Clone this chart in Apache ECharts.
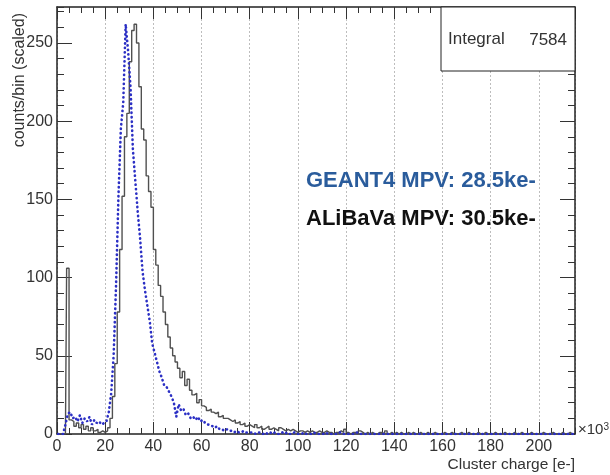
<!DOCTYPE html>
<html>
<head>
<meta charset="utf-8">
<script src="https://cdn.jsdelivr.net/npm/echarts@6/dist/echarts.min.js"></script>
<style>
  html, body { margin: 0; padding: 0; background: #fff; }
  #chart { width: 610px; height: 475px; }
</style>
</head>
<body>
<div id="chart"></div>
<script>
// Cluster charge histograms, 1 ke- bins starting at 0 (axis unit: 10^3 e-)
const binLow = 0;
const binWidth = 1;

// ALiBaVa measured cluster charge (counts/bin, scaled)
const alibavaCounts = [
  0, 0, 0, 0, 106, 9, 8, 5, 7, 4,
  6, 3, 5, 2, 4, 2, 3, 1, 2, 1,
  2, 4, 10, 24, 45, 78, 118, 152, 190, 205,
  238, 258, 262, 250, 222, 195, 188, 165, 155, 145,
  118, 108, 95, 88, 78, 70, 62, 55, 50, 46,
  42, 36, 40, 31, 35, 28, 25, 26, 20, 22,
  18, 17, 15, 16, 14, 13, 14, 11, 12, 10,
  10, 9, 8, 9, 7, 8, 6, 7, 5, 6,
  5, 4, 6, 4, 5, 3, 4, 5, 3, 4,
  3, 2, 4, 3, 2, 3, 2, 3, 2, 1,
  2, 2, 1, 2, 1, 2, 1, 1, 2, 1,
  1, 2, 1, 1, 0, 1, 1, 2, 1, 3,
  1, 0, 1, 1, 0, 2, 1, 0, 1, 0,
  1, 0, 0, 1, 1, 0, 2, 0, 1, 0,
  1, 0, 1, 0, 0, 1, 0, 1, 0, 0,
  1, 0, 0, 1, 0, 0, 1, 0, 0, 0,
  1, 0, 0, 1, 0, 0, 0, 1, 0, 0,
  1, 0, 0, 0, 1, 0, 0, 1, 0, 0,
  0, 1, 0, 0, 0, 1, 0, 0, 0, 1,
  0, 0, 1, 0, 0, 0, 1, 0, 0, 0,
  0, 1, 0, 0, 0, 1, 0, 0, 0, 1,
  0, 0, 1, 0, 0
];

// GEANT4 simulated cluster charge (counts/bin, scaled)
const geant4Counts = [
  0, 0, 0, 6, 13, 14, 10, 11, 8, 12,
  7, 10, 8, 11, 6, 9, 7, 8, 6, 7,
  8, 14, 26, 50, 95, 152, 195, 212, 262, 245,
  222, 182, 162, 142, 125, 104, 92, 82, 72, 58,
  52, 46, 40, 36, 31, 30, 27, 24, 20, 11,
  19, 15, 16, 12, 13, 10, 11, 9, 11, 8,
  9, 7, 6, 6, 5, 4, 5, 3, 3, 2,
  3, 2, 2, 1, 2, 1, 1, 2, 1, 1,
  1, 1, 0, 1, 1, 0, 1, 0, 1, 0,
  1, 0, 0, 1, 0, 1, 0, 0, 1, 0,
  0, 0, 1, 0, 0, 0, 1, 0, 0, 0,
  0, 1, 0, 0, 0, 0, 0, 1, 0, 0,
  0, 0, 0, 0, 1, 0, 0, 0, 0, 0,
  0, 0, 0, 0, 0, 0, 0, 0, 0, 0,
  0, 0, 0, 0, 0, 0, 0, 0, 0, 0,
  0, 0, 0, 0, 0, 0, 0, 0, 0, 0,
  0, 0, 0, 0, 0, 0, 0, 0, 0, 0,
  0, 0, 0, 0, 0, 0, 0, 0, 0, 0,
  0, 0, 0, 0, 0, 0, 0, 0, 0, 0,
  0, 0, 0, 0, 0, 0, 0, 0, 0, 0,
  0, 0, 0, 0, 0, 0, 0, 0, 0, 0,
  0, 0, 0, 0, 0
];

// Axis ranges and tick spacing
const xRange = [0, 215];
const yRange = [0, 273];
const xMajorStep = 20, xMinorStep = 5;
const yMajorStep = 50, yMinorStep = 10;

// Texts
const xTitle = 'Cluster charge [e-]';
const yTitle = 'counts/bin (scaled)';
const statsLabel = 'Integral';
const statsValue = '7584';
const geantText = 'GEANT4 MPV: 28.5ke-';
const alibavaText = 'ALiBaVa MPV: 30.5ke-';

const FONT = '"Liberation Sans", Arial, Helvetica, sans-serif';
const AXIS_COLOR = '#222';
const TEXT_COLOR = '#333';

const toPoints = counts => counts.map((c, i) => [binLow + (i + 0.5) * binWidth, c]);

function xAxisDef(position, step, tickLen, withLabels, withLine) {
  return {
    type: 'value', position, min: xRange[0], max: xRange[1], interval: step,
    axisLine: { show: withLine, onZero: false, lineStyle: { color: AXIS_COLOR, width: 1.5 } },
    axisTick: { show: true, inside: true, length: tickLen, lineStyle: { color: '#333', width: 1 } },
    axisLabel: {
      show: withLabels, color: TEXT_COLOR, fontSize: 16, fontFamily: FONT,
      margin: 5, showMaxLabel: false
    },
    splitLine: {
      show: withLabels,
      lineStyle: { color: '#bdbdbd', width: 1, type: [2, 2] }
    }
  };
}

function yAxisDef(position, step, tickLen, withLabels, withLine) {
  return {
    type: 'value', position, min: yRange[0], max: yRange[1], interval: step,
    axisLine: { show: withLine, onZero: false, lineStyle: { color: AXIS_COLOR, width: 1.5 } },
    axisTick: { show: true, inside: true, length: tickLen, lineStyle: { color: '#333', width: 1 } },
    axisLabel: {
      show: withLabels, color: TEXT_COLOR, fontSize: 16, fontFamily: FONT,
      margin: 4, showMaxLabel: false
    },
    splitLine: { show: false }
  };
}

const chart = echarts.init(document.getElementById('chart'), null, { renderer: 'canvas' });

chart.setOption({
  animation: false,
  backgroundColor: '#fff',
  grid: { left: 57, right: 35, top: 7, bottom: 41 },
  xAxis: [
    xAxisDef('bottom', xMajorStep, 12, true, true),
    xAxisDef('bottom', xMinorStep, 6, false, false),
    xAxisDef('top', xMajorStep, 12, false, true),
    xAxisDef('top', xMinorStep, 6, false, false)
  ],
  yAxis: [
    yAxisDef('left', yMajorStep, 15, true, true),
    yAxisDef('left', yMinorStep, 7, false, false),
    yAxisDef('right', yMajorStep, 15, false, true),
    yAxisDef('right', yMinorStep, 7, false, false)
  ],
  series: [
    {
      name: 'ALiBaVa', type: 'line', step: 'middle',
      xAxisIndex: 0, yAxisIndex: 0,
      data: toPoints(alibavaCounts),
      symbol: 'none',
      lineStyle: { color: '#505050', width: 1.4 },
      z: 3
    },
    {
      name: 'GEANT4', type: 'line',
      xAxisIndex: 0, yAxisIndex: 0,
      data: toPoints(geant4Counts),
      symbol: 'none',
      lineStyle: { color: '#2b2fc4', width: 2.6, type: [0.3, 4.2], cap: 'round' },
      z: 4
    }
  ],
  graphic: [
    {
      type: 'rect', z: 10,
      shape: { x: 441, y: 7, width: 134, height: 64 },
      style: { fill: '#fff', stroke: '#222', lineWidth: 1 }
    },
    {
      type: 'text', z: 11, x: 448, y: 39,
      style: { text: statsLabel, fill: TEXT_COLOR, font: '17px ' + FONT, verticalAlign: 'middle' }
    },
    {
      type: 'text', z: 11, x: 567, y: 40,
      style: { text: statsValue, fill: TEXT_COLOR, font: '17px ' + FONT, align: 'right', verticalAlign: 'middle' }
    },
    {
      type: 'text', z: 11, x: 306, y: 181,
      style: { text: geantText, fill: '#2a5c9c', font: 'bold 22px ' + FONT, verticalAlign: 'middle' }
    },
    {
      type: 'text', z: 11, x: 306, y: 219,
      style: { text: alibavaText, fill: '#111', font: 'bold 22px ' + FONT, verticalAlign: 'middle' }
    },
    {
      type: 'text', z: 11, x: 575, y: 465,
      style: { text: xTitle, fill: TEXT_COLOR, font: '15.5px ' + FONT, align: 'right', verticalAlign: 'middle' }
    },
    {
      type: 'text', z: 11, x: 578, y: 430,
      style: {
        text: '×10{s|3}', fill: TEXT_COLOR, font: '15px ' + FONT, verticalAlign: 'middle',
        rich: { s: { fontSize: 10, fontFamily: FONT, fill: TEXT_COLOR, verticalAlign: 'top', padding: [0, 0, 6, 0] } }
      }
    },
    {
      type: 'text', z: 11, x: 20, y: 13, rotation: Math.PI / 2,
      style: { text: yTitle, fill: TEXT_COLOR, font: '16px ' + FONT, align: 'right', verticalAlign: 'middle' }
    }
  ]
});
</script>
</body>
</html>
